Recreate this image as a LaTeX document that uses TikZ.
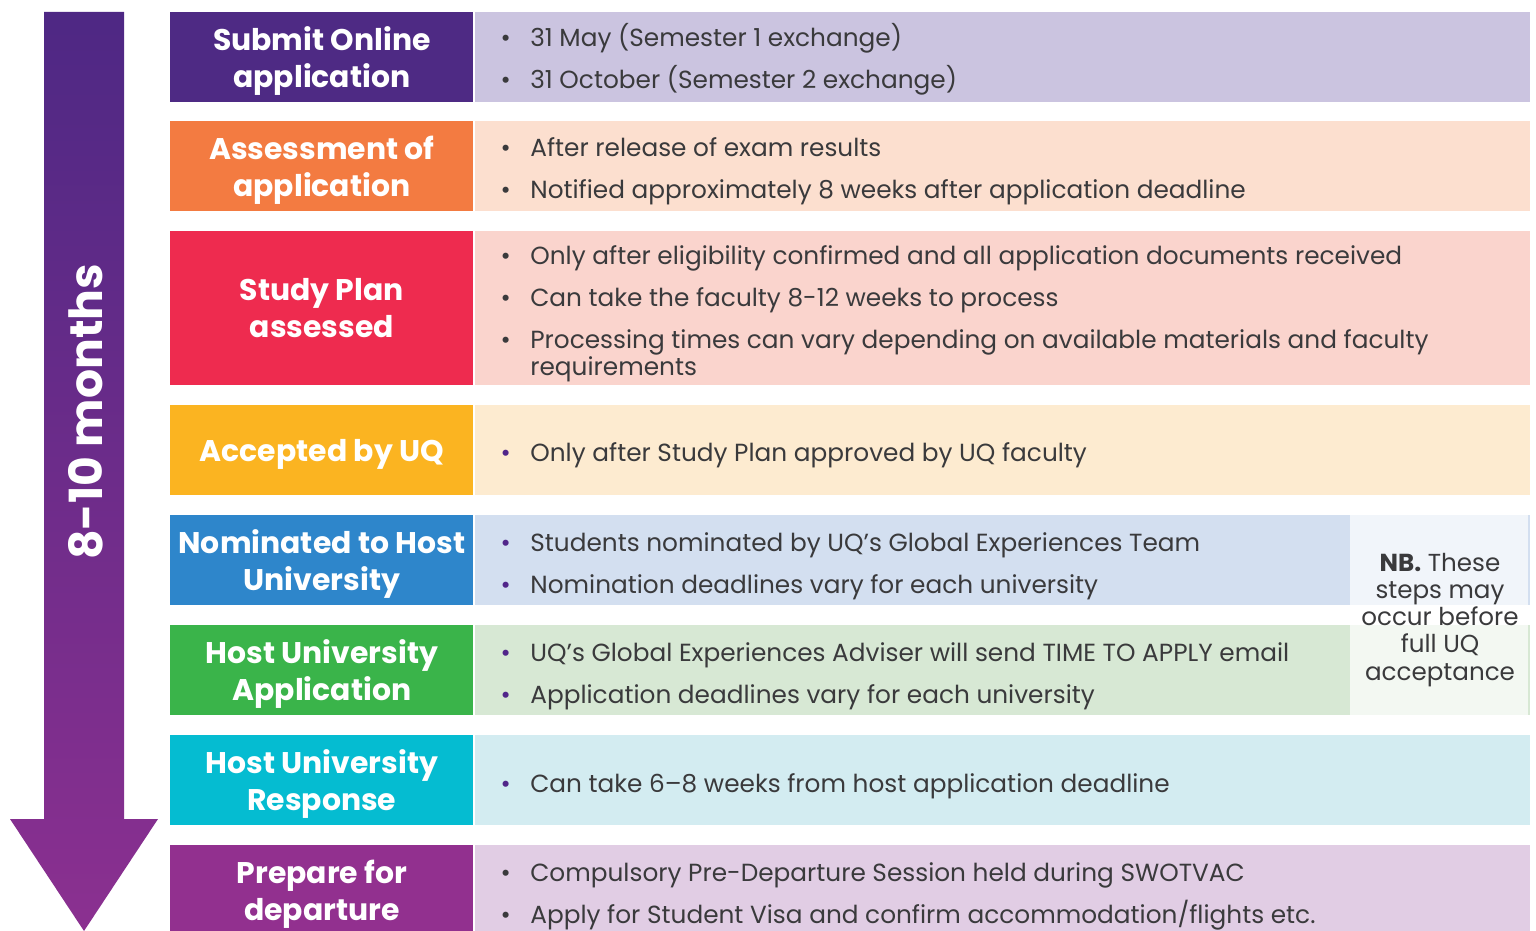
\documentclass[tikz,border=0pt]{standalone}
\usepackage{fontspec}
\setmainfont{Poppins}
\usetikzlibrary{calc}

\definecolor{arrowtop}{HTML}{4E2884}
\definecolor{arrowbot}{HTML}{8B3090}
\definecolor{bodygray}{HTML}{3A3A3C}
\definecolor{dotpurple}{HTML}{51268A}
\definecolor{submitdark}{HTML}{4E2A84}
\definecolor{submitlight}{HTML}{CBC4E0}
\definecolor{assessdark}{HTML}{F37B41}
\definecolor{assesslight}{HTML}{FCDFCF}
\definecolor{plandark}{HTML}{EE2B4F}
\definecolor{planlight}{HTML}{FAD4CD}
\definecolor{accdark}{HTML}{FBB421}
\definecolor{acclight}{HTML}{FDEBD0}
\definecolor{nomdark}{HTML}{2E86CB}
\definecolor{nomlight}{HTML}{D3DFF0}
\definecolor{hostdark}{HTML}{3AB44A}
\definecolor{hostlight}{HTML}{D7E8D4}
\definecolor{respdark}{HTML}{05BCD1}
\definecolor{resplight}{HTML}{D3ECF1}
\definecolor{prepdark}{HTML}{92308F}
\definecolor{preplight}{HTML}{E1CDE4}

\newcommand{\dotb}{\llap{•\hspace{3.9mm}}}
\newcommand{\dotp}{\llap{\textcolor{dotpurple}{•}\hspace{3.9mm}}}

\tikzset{
  stagebox/.style = {rectangle, anchor=north west, inner sep=0pt, minimum width=60.6mm, minimum height=18mm, text=white, align=center, text depth=-1.5mm, font=\bfseries\fontsize{17}{21}\selectfont},
  infobox/.style = {rectangle, anchor=north west, inner sep=0pt, minimum width=211mm, minimum height=18mm},
  pointtext/.style = {anchor=base west, inner sep=0pt, text=bodygray, font=\fontsize{14.1}{17}\selectfont},
}

\begin{document}
\begin{tikzpicture}[x=0.2mm, y=-0.2mm]
      \useasboundingbox (0,0) rectangle (1536,931);

      % time arrow
      \shade [top color = arrowtop, bottom color = arrowbot] (44,12) -- (124,12) -- (124,819) -- (158,819) -- (84,931) -- (10,819) -- (44,819) -- cycle;
      \node (span) [rotate = 90, text = white, font = \bfseries\fontsize{26}{30}\selectfont] at (86, 412) {8-10 months};

      % stages
      \node (stage1) [stagebox, fill = submitdark] at (170, 12) {Submit Online\\application};
      \node (stage2) [stagebox, fill = assessdark] at (170, 121) {Assessment of\\application};
      \node (stage3) [stagebox, fill = plandark, minimum height = 30.8mm] at (170, 231) {Study Plan\\assessed};
      \node (stage4) [stagebox, fill = accdark] at (170, 405) {Accepted by UQ};
      \node (stage5) [stagebox, fill = nomdark] at (170, 515) {Nominated to Host\\University};
      \node (stage6) [stagebox, fill = hostdark] at (170, 625) {Host University\\Application};
      \node (stage7) [stagebox, fill = respdark] at (170, 735) {Host University\\Response};
      \node (stage8) [stagebox, fill = prepdark] at (170, 845) {Prepare for\\departure};

      % details
      \node (info1) [infobox, fill = submitlight] at (475, 12) {};
      \node (info2) [infobox, fill = assesslight] at (475, 121) {};
      \node (info3) [infobox, fill = planlight, minimum height = 30.8mm] at (475, 231) {};
      \node (info4) [infobox, fill = acclight] at (475, 405) {};
      \node (info5) [infobox, fill = nomlight] at (475, 515) {};
      \node (info6) [infobox, fill = hostlight] at (475, 625) {};
      \node (info7) [infobox, fill = resplight] at (475, 735) {};
      \node (info8) [infobox, fill = preplight] at (475, 845) {};

      \node (p11) [pointtext] at (530, 47) {\dotb 31 May (Semester 1 exchange)};
      \node (p12) [pointtext] at (530, 89) {\dotb 31 October (Semester 2 exchange)};
      \node (p21) [pointtext] at (530, 157) {\dotb After release of exam results};
      \node (p22) [pointtext] at (530, 199) {\dotb Notified approximately 8 weeks after application deadline};
      \node (p31) [pointtext] at (530, 265) {\dotb Only after eligibility confirmed and all application documents received};
      \node (p32) [pointtext] at (530, 307) {\dotb Can take the faculty 8-12 weeks to process};
      \node (p33) [pointtext] at (530, 349) {\dotb Processing times can vary depending on available materials and faculty};
      \node (p34) [pointtext] at (530, 376) {requirements};
      \node (p41) [pointtext] at (530, 462) {\dotp Only after Study Plan approved by UQ faculty};
      \node (p51) [pointtext] at (530, 551) {\dotp Students nominated by UQ’s Global Experiences Team};
      \node (p52) [pointtext] at (530, 593) {\dotp Nomination deadlines vary for each university};
      \node (p61) [pointtext] at (530, 661) {\dotp UQ’s Global Experiences Adviser will send TIME TO APPLY email};
      \node (p62) [pointtext] at (530, 703) {\dotp Application deadlines vary for each university};
      \node (p71) [pointtext] at (530, 792) {\dotp Can take 6–8 weeks from host application deadline};
      \node (p81) [pointtext] at (530, 881) {\dotb Compulsory Pre-Departure Session held during SWOTVAC};
      \node (p82) [pointtext] at (530, 923) {\dotb Apply for Student Visa and confirm accommodation/flights etc.};

      % note over the nomination rows
      \fill [white, opacity = 0.7] (1350, 515) rectangle (1528, 715);
      \node (note) [align = center, text = bodygray, font = \fontsize{14}{15.4}\selectfont] at (1440, 620) {\textbf{NB.} These\\steps may\\occur before\\full UQ\\acceptance};
\end{tikzpicture}
\end{document}
